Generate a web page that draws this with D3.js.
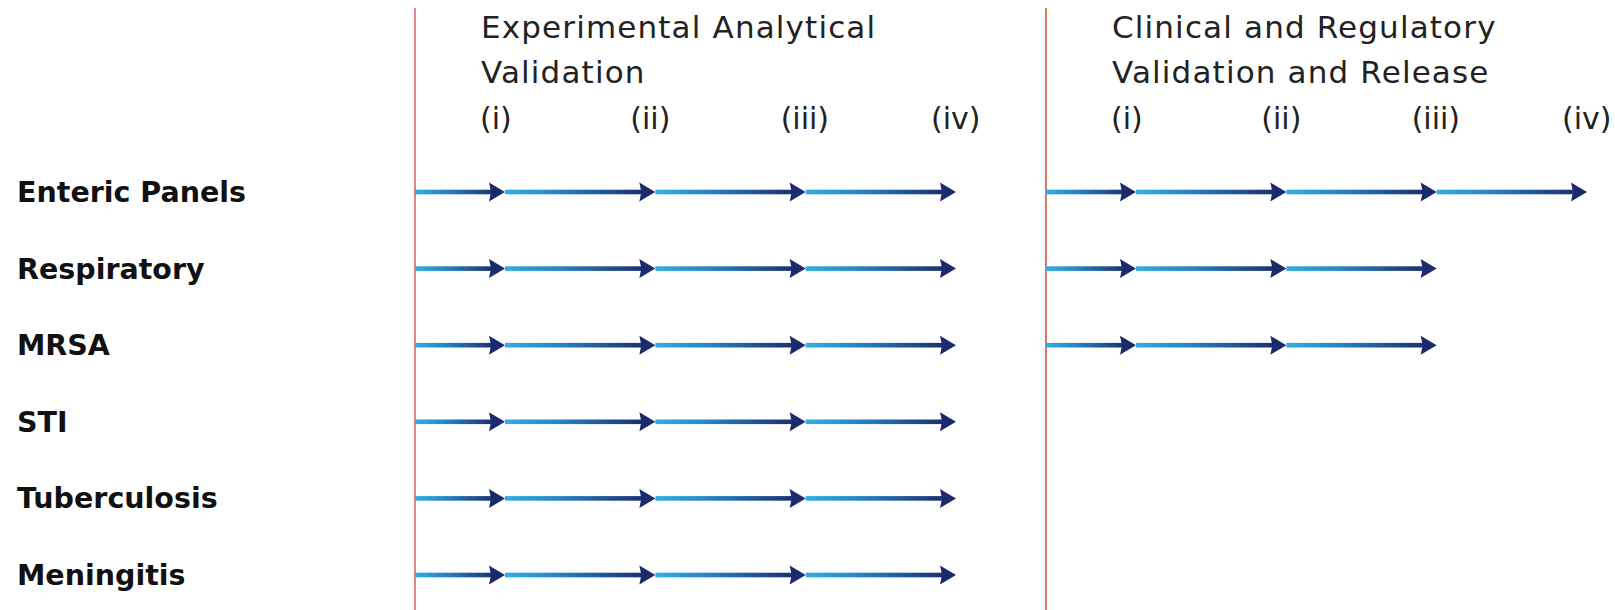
<!DOCTYPE html>
<html>
<head>
<meta charset="utf-8">
<script src="https://cdn.jsdelivr.net/npm/d3@7"></script>
<style>
  html, body { margin: 0; padding: 0; background: #ffffff; }
  svg { display: block; }
</style>
</head>
<body>
<svg id="chart" width="1615" height="610"></svg>
<script>
// ---- data ----
const categories = ["Enteric Panels", "Respiratory", "MRSA", "STI", "Tuberculosis", "Meningitis"];
const phases = ["Experimental Analytical Validation", "Clinical and Regulatory Validation and Release"];
const phaseTitleLines = [["Experimental Analytical", "Validation"], ["Clinical and Regulatory", "Validation and Release"]];
const stages = ["(i)", "(ii)", "(iii)", "(iv)"];
// number of stages completed per category, for each phase
const experimentalProgress = [4, 4, 4, 4, 4, 4];
const clinicalProgress = [4, 3, 3, 0, 0, 0];
const progressByPhase = [experimentalProgress, clinicalProgress];

// ---- layout ----
const W = 1615, H = 610;
const svg = d3.select("#chart");

const phaseScale = d3.scaleBand().domain(phases).range([415, 1046 + 631]).paddingInner(0).paddingOuter(0);
const stageScale = d3.scalePoint().domain(stages).range([90, 541]);
const rowScale = d3.scalePoint().domain(categories).range([192, 575]);

const lightBlue = "#33ade4";
const navy = "#1b2a6c";
const dividerColors = ["#e8828c", "#d8765f"];

// gradient
const defs = svg.append("defs");
const grad = defs.append("linearGradient").attr("id", "segGrad")
  .attr("x1", "0%").attr("x2", "100%").attr("y1", "0%").attr("y2", "0%");
grad.append("stop").attr("offset", "0%").attr("stop-color", lightBlue);
grad.append("stop").attr("offset", "35%").attr("stop-color", "#2588c6");
grad.append("stop").attr("offset", "100%").attr("stop-color", navy);

// divider lines
svg.selectAll("line.divider").data(phases).enter().append("line")
  .attr("class", "divider")
  .attr("x1", d => phaseScale(d)).attr("x2", d => phaseScale(d))
  .attr("y1", 8).attr("y2", H)
  .attr("stroke", (d, i) => dividerColors[i])
  .attr("stroke-width", 2);

// phase titles
const headerFont = "'DejaVu Sans', sans-serif";
phases.forEach((p, pi) => {
  const x0 = phaseScale(p) + stageScale(stages[0]) - 24;
  const t = svg.append("text")
    .attr("x", x0).attr("y", 38)
    .attr("font-family", headerFont).attr("font-size", 31)
    .attr("letter-spacing", 1.15)
    .attr("fill", "#222");
  phaseTitleLines[pi].forEach((line, li) => {
    t.append("tspan").attr("x", x0).attr("dy", li === 0 ? 0 : 45).text(line);
  });
  // stage labels
  svg.selectAll(null).data(stages).enter().append("text")
    .attr("x", d => phaseScale(p) + stageScale(d) - 25)
    .attr("y", 129)
    .attr("font-family", headerFont).attr("font-size", 30)
    .attr("fill", "#222")
    .text(d => d);
});

// row labels
svg.selectAll("text.row").data(categories).enter().append("text")
  .attr("class", "row")
  .attr("x", 17)
  .attr("y", d => rowScale(d) + 10)
  .attr("font-family", "'DejaVu Sans', sans-serif")
  .attr("font-weight", "bold")
  .attr("font-size", 28.5)
  .attr("fill", "#111")
  .text(d => d);

// arrows
const segs = [];
phases.forEach((p, pi) => {
  categories.forEach((c, ci) => {
    const n = progressByPhase[pi][ci];
    for (let k = 0; k < n; k++) {
      const xs = k === 0 ? phaseScale(p) : phaseScale(p) + stageScale(stages[k - 1]);
      const xe = phaseScale(p) + stageScale(stages[k]);
      segs.push({ xs, xe, y: rowScale(c) });
    }
  });
});

const g = svg.append("g");
g.selectAll("rect.seg").data(segs).enter().append("rect")
  .attr("class", "seg")
  .attr("x", d => d.xs)
  .attr("y", d => d.y - 2.3)
  .attr("width", d => d.xe - d.xs - 8)
  .attr("height", 4.6)
  .attr("fill", "url(#segGrad)");

g.selectAll("path.head").data(segs).enter().append("path")
  .attr("class", "head")
  .attr("d", d => `M${d.xe},${d.y} L${d.xe - 16},${d.y - 9.5} L${d.xe - 14},${d.y} L${d.xe - 16},${d.y + 9.5} Z`)
  .attr("fill", navy);
</script>
</body>
</html>
